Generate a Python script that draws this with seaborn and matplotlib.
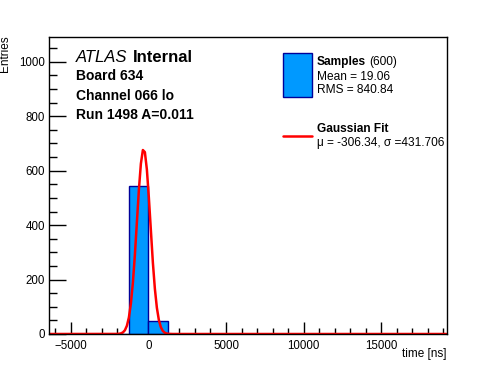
import numpy as np
import pandas as pd
import matplotlib
matplotlib.use("Agg")
import matplotlib.pyplot as plt
from matplotlib.patches import Rectangle
from matplotlib.lines import Line2D
from matplotlib.ticker import MultipleLocator
import seaborn as sns

# histogram: 20 bins from -6400 to 19200 ns
x_min, x_max, n_bins = -6400, 19200, 20
counts = [0, 0, 0, 0, 543, 46, 0, 0, 0, 0, 0, 0, 0, 0, 0, 0, 0, 0, 0, 0]
n_samples = 600
mean, rms = 19.06, 840.84

# gaussian fit parameters
fit_amp = 680
fit_mu = -306.34
fit_sigma = 431.706

sns.set_style("ticks")
plt.rcParams['font.family'] = ['Liberation Sans', 'DejaVu Sans']
plt.rcParams['text.color'] = 'black'
plt.rcParams['xtick.color'] = 'black'
plt.rcParams['ytick.color'] = 'black'
plt.rcParams['axes.edgecolor'] = 'black'

edges = np.linspace(x_min, x_max, n_bins + 1)
centers = (edges[:-1] + edges[1:]) / 2
df = pd.DataFrame({'time': centers, 'n': counts})

xf = np.linspace(x_min, x_max, 200)
fit = pd.DataFrame({'time': xf,
                    'y': fit_amp * np.exp(-0.5 * ((xf - fit_mu) / fit_sigma) ** 2)})

fig = plt.figure(figsize=(4.96, 3.72), dpi=100)
ax = fig.add_axes([49 / 496, 38 / 372, 397.5 / 496, 296.7 / 372])

sns.histplot(data=df, x='time', weights='n', bins=edges.tolist(), color='#0099ff',
             edgecolor='#000099', linewidth=1.0, alpha=1, ax=ax)
sns.lineplot(data=fit, x='time', y='y', color='red', linewidth=1.8, ax=ax)

ax.set_xlim(x_min, x_max)
ax.set_ylim(0, 1090)
ax.xaxis.set_major_locator(MultipleLocator(5000))
ax.xaxis.set_minor_locator(MultipleLocator(1000))
ax.yaxis.set_major_locator(MultipleLocator(200))
ax.yaxis.set_minor_locator(MultipleLocator(50))
ax.tick_params(axis='x', which='major', direction='in', length=9, width=1, labelsize=8.3, pad=4)
ax.tick_params(axis='x', which='minor', direction='in', length=4.5, width=1)
ax.tick_params(axis='y', which='major', direction='in', length=12, width=1, labelsize=8.3, pad=3)
ax.tick_params(axis='y', which='minor', direction='in', length=6, width=1)
for s in ax.spines.values():
    s.set_linewidth(1)
ax.set_xlabel('')
ax.set_ylabel('')

fig.text(446 / 496, 1 - 354 / 372, 'time [ns]', ha='right', va='center', fontsize=8.5)
fig.text(5 / 496, 1 - 35 / 372, 'Entries', rotation=90, ha='center', va='top', fontsize=8.5)

# ATLAS labels
fig.text(76 / 496, 1 - 57 / 372, 'ATLAS', style='italic', fontsize=12, va='center')
fig.text(133 / 496, 1 - 57 / 372, 'Internal', fontweight='bold', fontsize=12, va='center')
for i, s in enumerate(['Board 634', 'Channel 066 lo', 'Run 1498 A=0.011']):
    fig.text(76 / 496, 1 - (76.5 + 19.2 * i) / 372, s, fontweight='bold', fontsize=10, va='center')

# legend
fig.patches.append(Rectangle((283 / 496, 1 - 97 / 372), 29 / 496, 44 / 372,
                             transform=fig.transFigure, facecolor='#0099ff',
                             edgecolor='#000099', linewidth=1))
fig.lines.append(Line2D([283 / 496, 312 / 496], [1 - 136 / 372] * 2,
                        transform=fig.transFigure, color='red', linewidth=1.8))
fig.text(317 / 496, 1 - 62 / 372, 'Samples', fontweight='bold', fontsize=8.6, va='center')
fig.text(369 / 496, 1 - 62 / 372, '(%d)' % n_samples, fontsize=8.6, va='center')
fig.text(317 / 496, 1 - 77 / 372, 'Mean = %.2f' % mean, fontsize=8.6, va='center')
fig.text(317 / 496, 1 - 90 / 372, 'RMS = %.2f' % rms, fontsize=8.6, va='center')
fig.text(317 / 496, 1 - 129 / 372, 'Gaussian Fit', fontweight='bold', fontsize=8.6, va='center')
fig.text(317 / 496, 1 - 143 / 372, 'μ = %.2f, σ =%.3f' % (fit_mu, fit_sigma),
         fontsize=8.6, va='center')

fig.savefig('out.png', dpi=100)
